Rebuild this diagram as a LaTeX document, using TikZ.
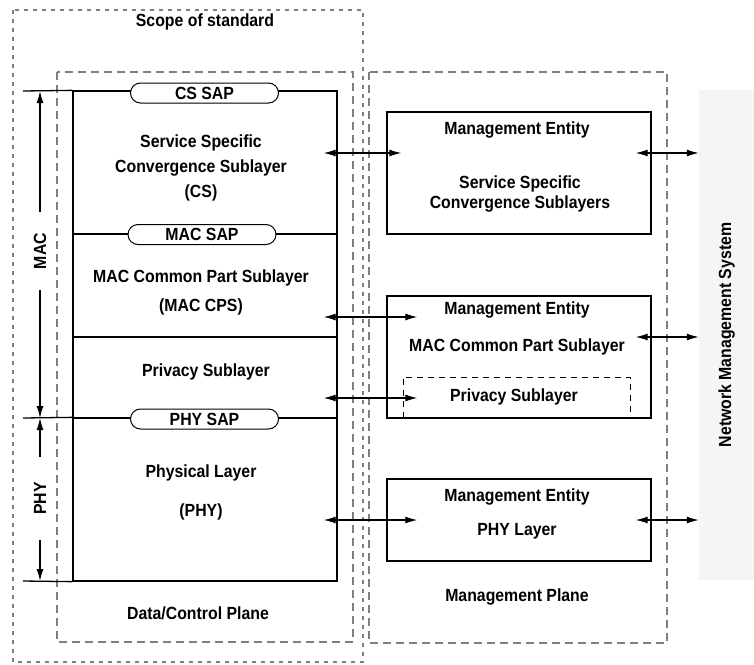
\documentclass[tikz,border=0pt]{standalone}
\usepackage{fontspec}
\setmainfont[FakeStretch=0.9]{Liberation Sans}
\usetikzlibrary{calc,arrows.meta}
\tikzset{
  txt/.style={font=\fontsize{17.6}{20}\selectfont\bfseries, inner sep=0pt, align=center},
  layer/.style={draw, line width=1.3pt, inner sep=0pt, minimum width=264pt},
  sap/.style={draw, line width=1pt, fill=white, rounded corners=10pt, minimum width=148pt, minimum height=20pt, inner sep=0pt, font=\fontsize{17.6}{20}\selectfont\bfseries},
  dbl/.style={line width=1.2pt, {Latex[length=12pt,width=7pt]}-{Latex[length=12pt,width=7pt]}},
  sgl/.style={line width=1.2pt, -{Latex[length=12pt,width=7pt]}},
  plane/.style={draw=gray, line width=2pt, dash pattern=on 8pt off 5pt},
  scopebox/.style={draw=gray, line width=2pt, dash pattern=on 4pt off 5pt}
}
\begin{document}
\begin{tikzpicture}[x=1pt,y=-1pt]
\useasboundingbox (0,0) rectangle (754,664);
% frames
\draw[scopebox] (13,10) rectangle (363,662);
\draw[plane] (57,72) rectangle (353,642);
\draw[plane] (369,72) rectangle (667,643);
\node[txt] (scope) at (205,22) {Scope of standard};
\node[txt] (dcp) at (198,613) {Data/Control Plane};
\node[txt] (mp) at (517,597) {Management Plane};

% protocol stack
\node[layer, minimum height=143pt] (cs) at (205,162.5) {};
\node[layer, minimum height=103pt] (cps) at (205,285.5) {};
\node[layer, minimum height=81pt] (priv) at (205,377.5) {};
\node[layer, minimum height=163pt] (phy) at (205,499.5) {};
\node[txt, font=\fontsize{17.6}{25}\selectfont\bfseries] (cstxt) at (201,168) {Service Specific\\Convergence Sublayer\\(CS)};
\node[txt, font=\fontsize{17.6}{29}\selectfont\bfseries] (cpstxt) at (201,292.5) {MAC Common Part Sublayer\\(MAC CPS)};
\node[txt] (privtxt) at (206,372) {Privacy Sublayer};
\node[txt, font=\fontsize{17.6}{39}\selectfont\bfseries] (phytxt) at (201,492.5) {Physical Layer\\(PHY)};

% scale on the left
\coordinate (macTop) at (40,91);
\coordinate (macBot) at (40,418);
\coordinate (phyBot) at (40,581);
\draw[line width=1.3pt] (23,91) -- (cs.north west);
\draw[line width=1.3pt] (23,418) -- (phy.north west);
\draw[line width=1.3pt] (23,581) -- (phy.south west);
\node[txt, rotate=90, minimum width=78pt] (mac) at (40,251) {MAC};
\node[txt, rotate=90, minimum width=83pt] (phyl) at (40,498.5) {PHY};
\draw[sgl] (mac) -- (macTop);
\draw[sgl] (mac) -- (macBot);
\draw[sgl] (phyl) -- (macBot);
\draw[sgl] (phyl) -- (phyBot);

% SAPs
\node[sap] (cssap) at (204.5,93) {CS SAP};
\node[sap] (macsap) at (202,234.5) {MAC SAP};
\node[sap] (physap) at (204.5,419) {PHY SAP};

% management entities
\node[layer, minimum height=122pt] (mecs) at (519,173) {};
\node[layer, minimum height=122pt] (memac) at (519,357) {};
\node[layer, minimum height=82pt] (mephy) at (519,520) {};
\draw[line width=1pt, dash pattern=on 6pt off 5pt] (403,418) -- (403,377) -- (630,377) -- (630,418);
\node[txt] (mecs1) at (517,130) {Management Entity};
\node[txt] (mecs2) at (520,194) {Service Specific\\Convergence Sublayers};
\node[txt] (memac1) at (517,310) {Management Entity};
\node[txt] (memac2) at (517,347) {MAC Common Part Sublayer};
\node[txt] (mepriv) at (514,397) {Privacy Sublayer};
\node[txt] (mephy1) at (517,497) {Management Entity};
\node[txt] (mephy2) at (517,531) {PHY Layer};

% network management system
\node[fill=black!4, minimum width=55pt, minimum height=490pt, inner sep=0pt] (nms) at (726.5,335) {};
\node[txt, rotate=90] (nmstxt) at (nms) {Network Management System};

% interfaces
\coordinate (rowa) at (0,153);
\coordinate (rowb) at (0,317);
\coordinate (rowc) at (0,398);
\coordinate (rowd) at (0,520);
\coordinate (rowe) at (0,337);
\draw[dbl] ([xshift=-14pt]cs.east |- rowa) -- ([xshift=15pt]mecs.west |- rowa);
\draw[dbl] ([xshift=-14pt]cps.east |- rowb) -- ([xshift=31pt]memac.west |- rowb);
\draw[dbl] ([xshift=-14pt]priv.east |- rowc) -- ([xshift=31pt]memac.west |- rowc);
\draw[dbl] ([xshift=-14pt]phy.east |- rowd) -- ([xshift=31pt]mephy.west |- rowd);
\draw[dbl] ([xshift=-16pt]mecs.east |- rowa) -- (nms.west |- rowa);
\draw[dbl] ([xshift=-16pt]memac.east |- rowe) -- (nms.west |- rowe);
\draw[dbl] ([xshift=-16pt]mephy.east |- rowd) -- (nms.west |- rowd);
\end{tikzpicture}
\end{document}
